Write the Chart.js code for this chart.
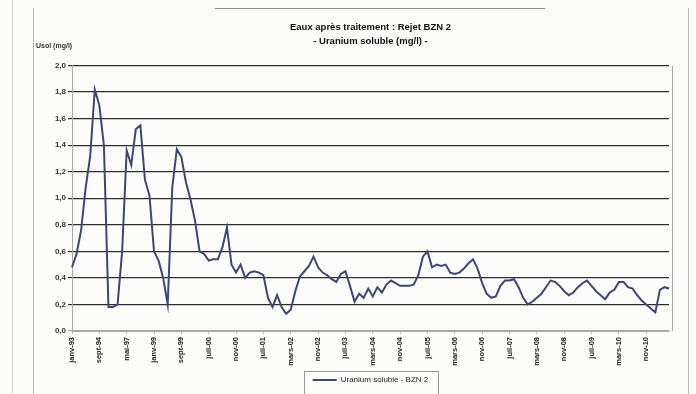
<!DOCTYPE html>
<html>
<head>
<meta charset="utf-8">
<script src="https://cdn.jsdelivr.net/npm/chart.js@4.4.0/dist/chart.umd.min.js"></script>
<style>
    html, body { margin: 0; padding: 0; background: #fcfcfb; }
    #wrap { position: relative; width: 696px; height: 394px; }
</style>
</head>
<body>
<div id="wrap"><canvas id="chart" width="696" height="394"></canvas></div>
<script>
// Chart texts
const titleLines = ['Eaux après traitement : Rejet BZN 2', '- Uranium soluble (mg/l) -'];
const yAxisTitle = 'Usol (mg/l)';
const seriesName = 'Uranium soluble - BZN 2';

// One date label every 6 measurements
const tickLabels = [
    'janv-93', 'sept-94', 'mai-97', 'janv-99', 'sept-99', 'juil-00', 'nov-00',
    'juil-01', 'mars-02', 'nov-02', 'juil-03', 'mars-04', 'nov-04', 'juil-05',
    'mars-06', 'nov-06', 'juil-07', 'mars-08', 'nov-08', 'juil-09', 'mars-10', 'nov-10'
];
const pointsPerTick = 6;

// Uranium soluble (mg/l)
const uranium = [
    0.48, 0.58, 0.76, 1.08, 1.32, 1.82, 1.70, 1.40, 0.18, 0.18,
    0.20, 0.60, 1.36, 1.25, 1.52, 1.55, 1.14, 1.02, 0.60, 0.53,
    0.40, 0.20, 1.08, 1.37, 1.31, 1.12, 0.99, 0.83, 0.60, 0.58,
    0.53, 0.54, 0.54, 0.63, 0.78, 0.50, 0.44, 0.50, 0.40, 0.44,
    0.45, 0.44, 0.42, 0.25, 0.18, 0.27, 0.18, 0.13, 0.16, 0.30,
    0.41, 0.45, 0.49, 0.56, 0.48, 0.44, 0.42, 0.39, 0.37, 0.43,
    0.45, 0.34, 0.22, 0.28, 0.25, 0.32, 0.26, 0.33, 0.29, 0.35,
    0.38, 0.36, 0.34, 0.34, 0.34, 0.35, 0.42, 0.56, 0.60, 0.48,
    0.50, 0.49, 0.50, 0.44, 0.43, 0.44, 0.47, 0.51, 0.54, 0.47,
    0.36, 0.28, 0.25, 0.26, 0.34, 0.38, 0.38, 0.39, 0.33, 0.25,
    0.20, 0.22, 0.25, 0.28, 0.33, 0.38, 0.37, 0.34, 0.30, 0.27,
    0.29, 0.33, 0.36, 0.38, 0.34, 0.30, 0.27, 0.24, 0.29, 0.31,
    0.37, 0.37, 0.33, 0.32, 0.27, 0.23, 0.20, 0.17, 0.14, 0.31,
    0.33, 0.32
];

const categories = uranium.map((_, i) => i % pointsPerTick === 0 ? (tickLabels[i / pointsPerTick] || '') : '');

const FONT = '"Liberation Sans", Arial, sans-serif';
const lineColor = '#3d4676';

// Scan frame, plot border, axis title and legend box
const scanFrame = {
    id: 'scanFrame',
    beforeDraw(chart) {
        const { ctx, width, height } = chart;
        ctx.save();
        ctx.fillStyle = '#fcfcfb';
        ctx.fillRect(0, 0, width, height);
        ctx.lineWidth = 1;
        ctx.strokeStyle = '#d4d4d4';
        ctx.beginPath(); ctx.moveTo(12.5, 0); ctx.lineTo(12.5, height); ctx.stroke();
        ctx.strokeStyle = '#b8b8b8';
        ctx.beginPath(); ctx.moveTo(33.5, 8); ctx.lineTo(33.5, height); ctx.stroke();
        ctx.beginPath(); ctx.moveTo(688.5, 8); ctx.lineTo(688.5, height); ctx.stroke();
        ctx.strokeStyle = '#8a8a8a';
        ctx.beginPath(); ctx.moveTo(215, 8.5); ctx.lineTo(545, 8.5); ctx.stroke();
        ctx.restore();
    },
    afterDraw(chart) {
        const { ctx, chartArea } = chart;
        ctx.save();
        ctx.strokeStyle = '#aaa';
        ctx.lineWidth = 1;
        ctx.beginPath();
        ctx.moveTo(Math.round(chartArea.right) + 3.5, chartArea.top);
        ctx.lineTo(Math.round(chartArea.right) + 3.5, chartArea.bottom);
        ctx.stroke();

        ctx.fillStyle = '#333';
        ctx.font = 'bold 7px ' + FONT;
        ctx.textBaseline = 'middle';
        ctx.fillText(yAxisTitle, chartArea.left - 36, chartArea.top - 19);

        const hb = chart.legend.legendHitBoxes[0];
        if (hb) {
            ctx.strokeStyle = '#999';
            ctx.strokeRect(Math.round(hb.left) - 8.5, Math.round(hb.top) - 4.5, Math.round(hb.width) + 18, 40);
        }
        ctx.restore();
    }
};

new Chart(document.getElementById('chart'), {
    type: 'line',
    data: {
        labels: categories,
        datasets: [{
            label: seriesName,
            data: uranium,
            borderColor: lineColor,
            backgroundColor: lineColor,
            borderWidth: 2,
            pointRadius: 0,
            tension: 0,
            fill: false
        }]
    },
    options: {
        responsive: false,
        animation: false,
        layout: { padding: { top: 20, left: 30, right: 27, bottom: 0 } },
        plugins: {
            title: {
                display: true, text: titleLines, fullSize: false, color: '#111',
                font: { family: FONT, size: 9.5, weight: 'bold', lineHeight: 1.5 },
                padding: { top: 0, bottom: 17 }
            },
            legend: {
                position: 'bottom', fullSize: false,
                labels: {
                    usePointStyle: true, pointStyle: 'line', pointStyleWidth: 24,
                    color: '#222', padding: 6,
                    font: { family: FONT, size: 8 }
                }
            },
            tooltip: { enabled: false }
        },
        scales: {
            x: {
                type: 'category',
                offset: false,
                afterFit: s => { s.height = 39; },
                grid: {
                    drawOnChartArea: false, tickLength: 3,
                    color: c => (c.tick && c.tick.label) ? '#bbb' : 'rgba(0,0,0,0)'
                },
                border: { color: '#aaa' },
                ticks: {
                    autoSkip: false, minRotation: 90, maxRotation: 90, padding: 3,
                    color: '#222', font: { family: FONT, size: 7.5, weight: 'bold' }
                }
            },
            y: {
                min: 0, max: 2,
                afterFit: s => { s.width = 42; },
                ticks: {
                    stepSize: 0.2, padding: 2, color: '#333',
                    font: { family: FONT, size: 8, weight: 'bold' },
                    callback: v => v.toFixed(1).replace('.', ',')
                },
                grid: {
                    color: c => Math.abs(c.tick.value) < 1e-6 ? '#aaa' : '#2e2e2e',
                    lineWidth: 1.2, tickLength: 4
                },
                border: { color: '#aaa' }
            }
        }
    },
    plugins: [scanFrame]
});
</script>
</body>
</html>
